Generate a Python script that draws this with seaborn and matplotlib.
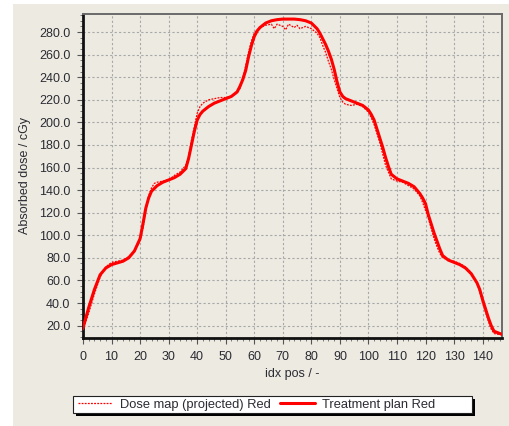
import matplotlib
matplotlib.use("Agg")
import matplotlib.pyplot as plt
from matplotlib.patches import Rectangle
from matplotlib.lines import Line2D
from matplotlib.ticker import MultipleLocator, FormatStrFormatter
import numpy as np
import pandas as pd
import seaborn as sns

# Treatment plan profile (index position, absorbed dose in cGy)
plan_pos = [0, 2, 4, 6, 8, 10, 12, 14, 16, 18, 20, 21, 22, 23, 24, 26, 28, 30, 32, 34,
            36, 37, 38, 39, 40, 41, 42, 44, 46, 48, 50, 52, 54, 55, 56, 57, 58, 59, 60, 61,
            62, 64, 66, 68, 70, 72, 74, 76, 78, 80, 82, 83, 84, 85, 86, 87, 88, 89, 90, 91,
            92, 94, 96, 98, 100, 101, 102, 103, 104, 105, 106, 107, 108, 110, 112, 114, 116,
            118, 119, 120, 121, 122, 123, 124, 125, 126, 128, 130, 132, 134, 136, 138, 139,
            140, 141, 142, 143, 144, 146, 147]
plan_dose = [18, 36, 52, 65, 71, 74, 75.5, 77, 80, 86, 97, 110, 124, 133, 139, 144, 147, 149, 151, 154,
             159, 168, 180, 192, 202, 207, 210, 214, 217, 219, 221, 223, 227, 232, 238, 246, 258, 268, 276, 281,
             284, 288, 290, 291, 291.5, 291.5, 291.5, 291, 290, 288, 283, 279, 274, 269, 263, 256, 247, 236, 227, 223,
             221, 219, 217, 215, 211, 207, 202, 194, 186, 178, 169, 161, 154, 150, 148, 146, 143,
             137, 133, 128, 118, 110, 102, 95, 88, 82, 78, 76, 74, 71, 66, 58, 52,
             43, 35, 27, 20, 15, 13, 12]

# Projected dose map profile
map_pos = [0, 2, 4, 6, 8, 10, 12, 14, 16, 18, 20, 21, 22, 23, 24, 25, 26, 28, 30, 32,
           34, 36, 37, 38, 39, 40, 41, 42, 44, 46, 48, 50, 52, 54, 55, 56, 57, 58, 59, 60,
           62, 64, 66, 67, 68, 70, 71, 72, 74, 75, 76, 78, 80, 82, 83, 84, 85, 86, 87, 88,
           89, 90, 91, 92, 94, 96, 98, 100, 101, 102, 103, 104, 105, 106, 107, 108, 110, 112,
           114, 116, 118, 119, 120, 121, 122, 123, 124, 125, 126, 128, 130, 132, 134, 136, 138,
           139, 140, 141, 142, 143, 144, 146, 147]
map_dose = [16, 31, 48, 63, 72, 76, 77, 78, 81, 86, 95, 106, 122, 135, 142, 146, 147, 148, 149, 153,
            156, 162, 170, 184, 196, 208, 214, 217, 220, 221, 222, 222, 223, 226, 230, 240, 250, 262, 272, 279,
            284, 286, 287, 283, 287, 285, 282, 287, 284, 286, 283, 285, 283, 279, 275, 268, 262, 254, 247, 238,
            230, 222, 218, 216, 215, 216, 214, 209, 204, 198, 190, 182, 172, 162, 156, 150, 148, 147,
            144, 141, 135, 129, 122, 115, 106, 97, 90, 84, 80, 78, 77, 75, 72, 67, 58,
            50, 40, 32, 24, 17, 13, 12, 13]

x_ticks = list(range(0, 141, 10))
y_ticks = list(range(20, 281, 20))

panel = "#EDEAE2"
red = "#FF0000"
text_color = "#2B2B33"

sns.set_style("white")
plt.rcParams["font.family"] = ["Liberation Sans", "DejaVu Sans"]

fig = plt.figure(figsize=(5.09, 4.26), dpi=100)
fig.patch.set_facecolor("white")
# Window panel behind the chart
fig.add_artist(Rectangle((13 / 509, 0), 1 - 13 / 509, 1 - 4 / 426,
                         transform=fig.transFigure, facecolor=panel, edgecolor="none", zorder=-10))

ax = fig.add_axes([83 / 509, 1 - 338 / 426, (502 - 83) / 509, (338 - 14) / 426])
ax.set_facecolor(panel)

df_map = pd.DataFrame({"pos": map_pos, "dose": map_dose})
df_plan = pd.DataFrame({"pos": plan_pos, "dose": plan_dose})

sns.lineplot(data=df_map, x="pos", y="dose", ax=ax, color=red, linewidth=0.9,
             linestyle=(0, (1.5, 1)), sort=False, zorder=3)
sns.lineplot(data=df_plan, x="pos", y="dose", ax=ax, color=red, linewidth=2.2,
             sort=False, zorder=4)

ax.set_xlim(0, 146.8)
ax.set_ylim(9, 296)
ax.set_xticks(x_ticks)
ax.set_yticks(y_ticks)
ax.yaxis.set_major_formatter(FormatStrFormatter("%.1f"))
ax.xaxis.set_minor_locator(MultipleLocator(2))
ax.yaxis.set_minor_locator(MultipleLocator(5))

ax.grid(True, which="major", color="#A8A8A8", linestyle=(0, (2, 2)), linewidth=0.8)
ax.set_axisbelow(True)

for side in ("left", "bottom"):
    ax.spines[side].set_color("#111111")
    ax.spines[side].set_linewidth(2.0)
for side in ("top", "right"):
    ax.spines[side].set_color("#6A6A6A")
    ax.spines[side].set_linewidth(1.4)

ax.tick_params(which="major", direction="out", length=4, width=0.8, color="#555555",
               labelsize=9, labelcolor=text_color, pad=5)
ax.tick_params(which="minor", direction="out", length=2, width=0.7, color="#777777")
ax.tick_params(axis="x", which="both", bottom=True)
ax.tick_params(axis="y", which="both", left=True)

ax.set_xlabel("idx pos / -", fontsize=9, color=text_color, labelpad=4)
ax.set_ylabel("Absorbed dose / cGy", fontsize=9, color=text_color, labelpad=6)

# Legend box with a solid drop shadow
lx0, ly0, lx1, ly1 = 73, 396, 472, 413
W, H = 509, 426
fig.add_artist(Rectangle(((lx0 + 3) / W, 1 - (ly1 + 3) / H), (lx1 - lx0) / W, (ly1 - ly0) / H,
                         transform=fig.transFigure, facecolor="black", edgecolor="none", zorder=5))
fig.add_artist(Rectangle((lx0 / W, 1 - ly1 / H), (lx1 - lx0) / W, (ly1 - ly0) / H,
                         transform=fig.transFigure, facecolor="white", edgecolor="#222222",
                         linewidth=0.8, zorder=6))
handles = [Line2D([], [], color=red, linewidth=0.9, linestyle=(0, (1.5, 1))),
           Line2D([], [], color=red, linewidth=2.2)]
labels = ["Dose map (projected) Red", "Treatment plan Red"]
leg = fig.legend(handles, labels, loc="center left",
                 bbox_to_anchor=((lx0 + 2) / W, 1 - (ly0 + ly1) / 2 / H), ncol=2,
                 frameon=False, fontsize=9.3, handlelength=2.7, handletextpad=0.55,
                 columnspacing=0.75, borderaxespad=0, borderpad=0.2)
leg.set_zorder(7)
for t in leg.get_texts():
    t.set_color(text_color)

fig.savefig("out.png", dpi=100, facecolor=fig.get_facecolor())
